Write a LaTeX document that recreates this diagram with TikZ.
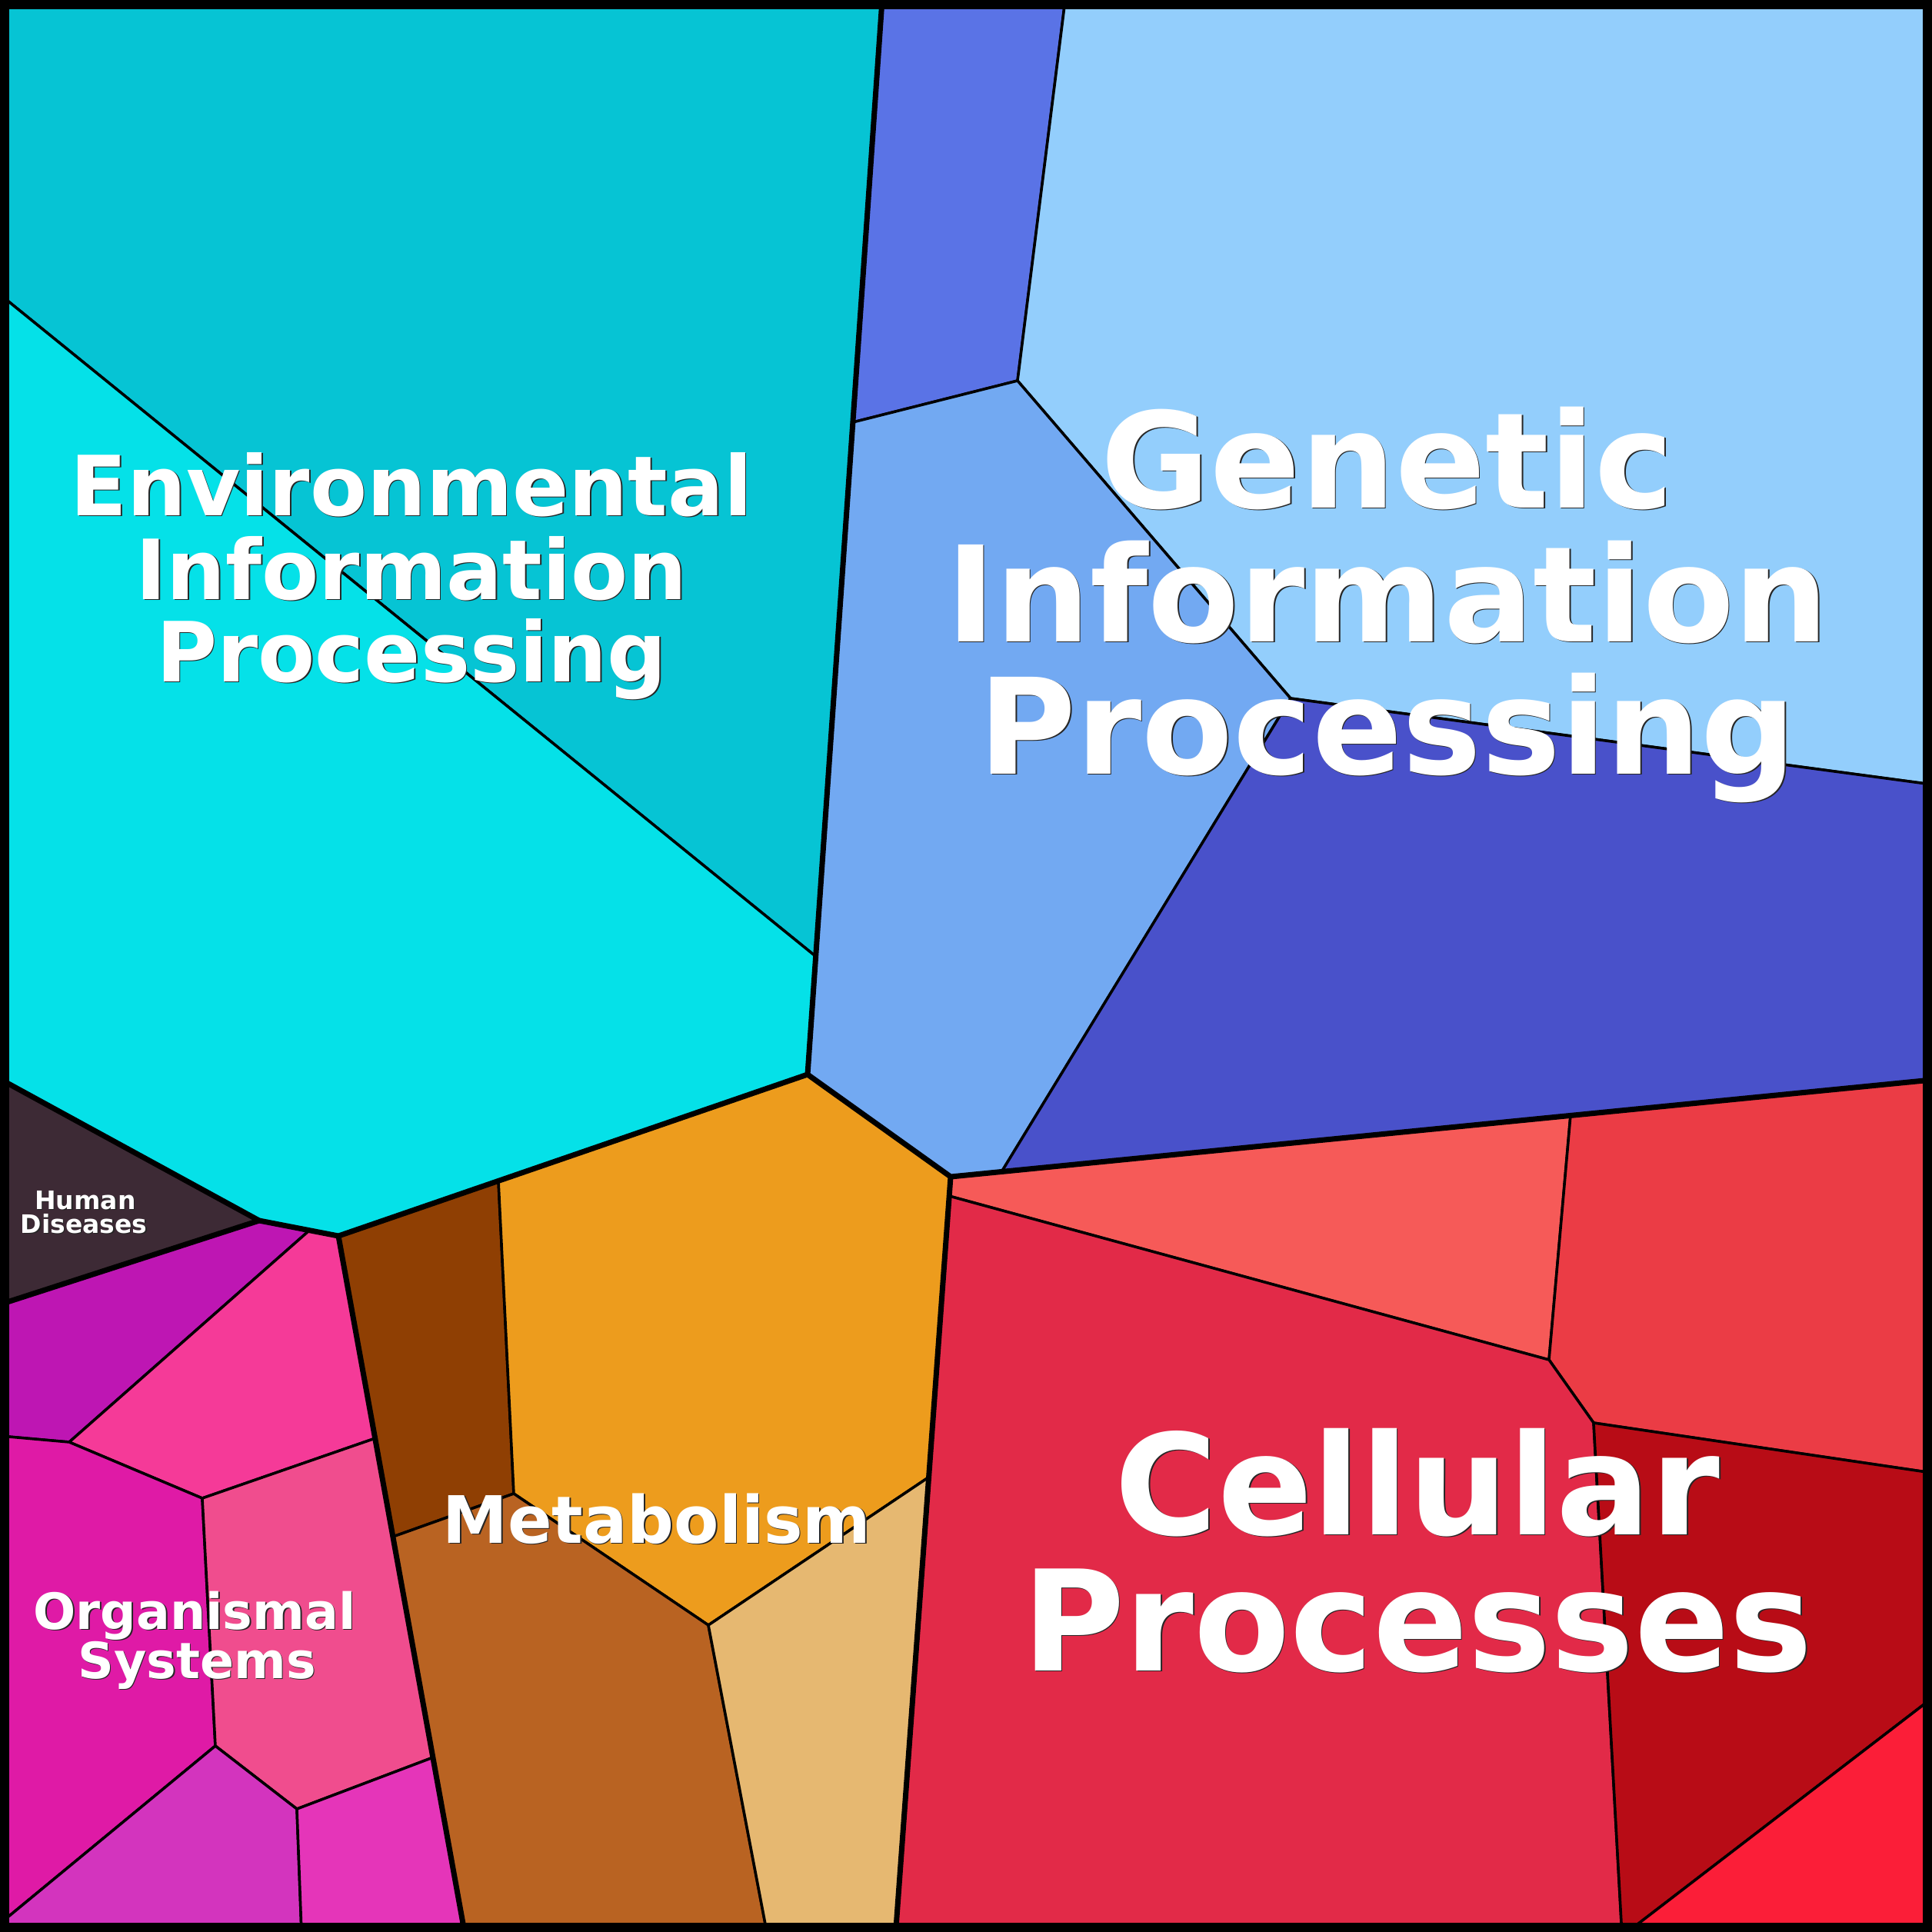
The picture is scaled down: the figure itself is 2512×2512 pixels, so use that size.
\documentclass[tikz,border=0pt]{standalone}
\usepackage{fontspec}
\setmainfont{DejaVu Sans}
\definecolor{envA}{HTML}{06C4D4}
\definecolor{envB}{HTML}{05E1E8}
\definecolor{genA}{HTML}{5A73E6}
\definecolor{genB}{HTML}{93CEFC}
\definecolor{genC}{HTML}{72A9F2}
\definecolor{genD}{HTML}{4951CA}
\definecolor{humA}{HTML}{3D2A35}
\definecolor{orgA}{HTML}{BE16B3}
\definecolor{orgB}{HTML}{F53A98}
\definecolor{orgC}{HTML}{DF1AA6}
\definecolor{orgD}{HTML}{F04D8E}
\definecolor{orgE}{HTML}{D334BE}
\definecolor{orgF}{HTML}{E535B9}
\definecolor{metA}{HTML}{8F3F03}
\definecolor{metB}{HTML}{ED9C1D}
\definecolor{metC}{HTML}{B96322}
\definecolor{metD}{HTML}{E6B871}
\definecolor{celA}{HTML}{F65A58}
\definecolor{celB}{HTML}{EB3C45}
\definecolor{celC}{HTML}{E22A48}
\definecolor{celD}{HTML}{B80C16}
\definecolor{celE}{HTML}{FB1E38}
\newcommand{\shadowlabel}[5]{%
  \node[#4, text=black!85, anchor=base, inner sep=0pt] (#1s) at (#2+1.6,#3+1.6) {#5};
  \node[#4, text=white, anchor=base, inner sep=0pt] (#1) at (#2,#3) {#5};
}
\begin{document}
\begin{tikzpicture}[x=1pt,y=-1pt,
  cell/.style={draw=black, line width=3.5pt, line join=round},
  major/.style={draw=black, line width=7pt, line join=round, line cap=round},
  fGen/.style={font=\fontsize{173}{173}\selectfont\bfseries},
  fCel/.style={font=\fontsize{182}{182}\selectfont\bfseries},
  fEnv/.style={font=\fontsize{108}{108}\selectfont\bfseries},
  fMet/.style={font=\fontsize{85}{85}\selectfont\bfseries},
  fOrg/.style={font=\fontsize{65}{65}\selectfont\bfseries},
  fHum/.style={font=\fontsize{33}{33}\selectfont\bfseries}]
\useasboundingbox (0,0) rectangle (2512,2512);
% vertices
\coordinate (T1) at (1147,0);
\coordinate (T2) at (1385,0);
\coordinate (P1) at (1109,549);
\coordinate (P2) at (1060,1243);
\coordinate (A) at (1050,1397);
\coordinate (B) at (1236,1530);
\coordinate (Q1) at (1323,495);
\coordinate (Q2) at (1678,908);
\coordinate (Q3) at (1302,1524);
\coordinate (R1) at (2512,1020);
\coordinate (R2) at (2512,1404);
\coordinate (E1) at (0,383);
\coordinate (H1) at (0,1403);
\coordinate (H2) at (337,1587);
\coordinate (H3) at (440,1607);
\coordinate (H4) at (0,1696);
\coordinate (O1) at (402,1600);
\coordinate (O2) at (90,1875);
\coordinate (O3) at (0,1867);
\coordinate (O4) at (263,1948);
\coordinate (O5) at (488,1870);
\coordinate (O6) at (280,2270);
\coordinate (O7) at (386,2352);
\coordinate (O8) at (563,2285);
\coordinate (O9) at (392,2512);
\coordinate (O10) at (0,2501);
\coordinate (OB) at (604,2512);
\coordinate (M1) at (648,1535);
\coordinate (M2) at (668,1942);
\coordinate (M3) at (511,1998);
\coordinate (M4) at (921,2113);
\coordinate (M5) at (1207,1921);
\coordinate (M6) at (997,2512);
\coordinate (MB) at (1164.6,2512);
\coordinate (C1) at (1234,1555);
\coordinate (C2) at (2014,1768);
\coordinate (C3) at (2042,1450);
\coordinate (C4) at (2072,1850);
\coordinate (C5) at (2512,1915);
\coordinate (C6) at (2108.7,2512);
\coordinate (C7) at (2116,2512);
\coordinate (C8) at (2512,2208);
% Environmental
\filldraw[cell, fill=envA] (0,0) -- (T1) -- (P2) -- (E1) -- cycle;
\filldraw[cell, fill=envB] (E1) -- (P2) -- (A) -- (H3) -- (H2) -- (H1) -- cycle;
% Human diseases
\filldraw[cell, fill=humA] (H1) -- (H2) -- (H4) -- cycle;
% Organismal
\filldraw[cell, fill=orgA] (H4) -- (H2) -- (O1) -- (O2) -- (O3) -- cycle;
\filldraw[cell, fill=orgB] (O1) -- (H3) -- (O5) -- (O4) -- (O2) -- cycle;
\filldraw[cell, fill=orgC] (O3) -- (O2) -- (O4) -- (O6) -- (O10) -- cycle;
\filldraw[cell, fill=orgD] (O4) -- (O5) -- (O8) -- (O7) -- (O6) -- cycle;
\filldraw[cell, fill=orgE] (O6) -- (O7) -- (O9) -- (0,2512) -- (O10) -- cycle;
\filldraw[cell, fill=orgF] (O7) -- (O8) -- (OB) -- (O9) -- cycle;
% Metabolism
\filldraw[cell, fill=metA] (H3) -- (M1) -- (M2) -- (M3) -- cycle;
\filldraw[cell, fill=metB] (M1) -- (A) -- (B) -- (M5) -- (M4) -- (M2) -- cycle;
\filldraw[cell, fill=metC] (M3) -- (M2) -- (M4) -- (M6) -- (OB) -- cycle;
\filldraw[cell, fill=metD] (M4) -- (M5) -- (MB) -- (M6) -- cycle;
% Genetic
\filldraw[cell, fill=genA] (T1) -- (T2) -- (Q1) -- (P1) -- cycle;
\filldraw[cell, fill=genB] (T2) -- (2512,0) -- (R1) -- (Q2) -- (Q1) -- cycle;
\filldraw[cell, fill=genC] (P1) -- (Q1) -- (Q2) -- (Q3) -- (B) -- (A) -- cycle;
\filldraw[cell, fill=genD] (Q2) -- (R1) -- (R2) -- (Q3) -- cycle;
% Cellular
\filldraw[cell, fill=celA] (B) -- (C3) -- (C2) -- (C1) -- cycle;
\filldraw[cell, fill=celB] (C3) -- (R2) -- (C5) -- (C4) -- (C2) -- cycle;
\filldraw[cell, fill=celC] (C1) -- (C2) -- (C4) -- (C6) -- (MB) -- cycle;
\filldraw[cell, fill=celD] (C4) -- (C5) -- (C8) -- (C7) -- (C6) -- cycle;
\filldraw[cell, fill=celE] (C7) -- (C8) -- (2512,2512) -- cycle;
% major boundaries
\draw[major] (T1) -- (A);
\draw[major] (H1) -- (H2) -- (H3) -- (A) -- (B) -- (R2);
\draw[major] (H2) -- (H4);
\draw[major] (B) -- (MB);
\draw[major] (H3) -- (OB);
% frame
\draw[draw=black, line width=12pt] (6,6) rectangle (2506,2506);
% labels
\shadowlabel{envL1}{535}{670}{fEnv}{Environmental}
\shadowlabel{envL2}{535}{779}{fEnv}{Information}
\shadowlabel{envL3}{535}{886}{fEnv}{Processing}
\shadowlabel{genL1}{1804}{660}{fGen}{Genetic}
\shadowlabel{genL2}{1804}{834}{fGen}{Information}
\shadowlabel{genL3}{1804}{1006}{fGen}{Processing}
\shadowlabel{celL1}{1843}{1995}{fCel}{Cellular}
\shadowlabel{celL2}{1843}{2172}{fCel}{Processes}
\shadowlabel{metL1}{854}{2006}{fMet}{Metabolism}
\shadowlabel{orgL1}{253}{2118}{fOrg}{Organismal}
\shadowlabel{orgL2}{256}{2182}{fOrg}{Systems}
\shadowlabel{humL1}{111}{1572}{fHum}{Human}
\shadowlabel{humL2}{109}{1603}{fHum}{Diseases}
\end{tikzpicture}
\end{document}
